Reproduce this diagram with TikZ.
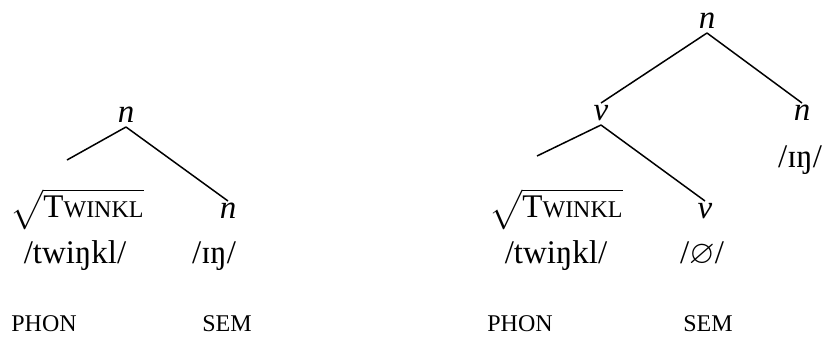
\documentclass[tikz,border=0pt]{standalone}
\usepackage{fontspec}
\setmainfont{Liberation Serif}
\usepackage{amssymb}
\usepackage{tikz}
\usetikzlibrary{calc}
\usetikzlibrary{positioning}
\tikzstyle{catnode} = [font=\fontsize{16.5}{20}\selectfont\itshape, inner sep=0pt, outer sep=2.5pt, text height=0.6em, text depth=0pt, anchor=base]
\tikzstyle{wordnode} = [inner sep=0pt, anchor=base]
\tikzstyle{branch} = [line width=0.75pt]
\newcommand{\smcaps}[1]{{\fontsize{12}{14}\selectfont #1}}
\newcommand{\rootform}{$\sqrt{\rule[-6pt]{0pt}{18pt}\mbox{T\smcaps{WINKL}}}$}

\begin{document}
\begin{tikzpicture}[x=0.5pt, y=-0.5pt, font=\fontsize{16.5}{20}\selectfont]
\useasboundingbox (0,0) rectangle (826,338);

% left tree
\node[catnode] (rootL) at (126,122) {n};
\node[wordnode] (sqrtL) at (77,217) {\rootform};
\node[catnode] (nL) at (228,218) {n};
\node[wordnode] (phonL) at (75,263) {/twiŋkl/};
\node[wordnode] (ingL) at (214,263) {/ɪŋ/};
\node[wordnode] (phonlabL) at (44,331) {\smcaps{PHON}};
\node[wordnode] (semlabL) at (227,331) {\smcaps{SEM}};
\coordinate (endL) at (67,160);
\draw[branch] (rootL.south) -- (endL);
\draw[branch] (rootL.south) -- (nL.north);

% right tree
\node[catnode] (rootR) at (707,28) {n};
\node[catnode] (vR) at (601,120) {v};
\node[catnode] (nR) at (802,120) {n};
\node[wordnode] (ingR) at (800,167) {/ɪŋ/};
\node[wordnode] (sqrtR) at (556,217) {\rootform};
\node[catnode] (vlow) at (705,218) {v};
\node[wordnode] (phonR) at (556,263) {/twiŋkl/};
\node[wordnode] (nullR) at (702,263) {/$\varnothing$/};
\node[wordnode] (phonlabR) at (520,331) {\smcaps{PHON}};
\node[wordnode] (semlabR) at (708,331) {\smcaps{SEM}};
\coordinate (endR) at (537,156);
\draw[branch] (rootR.south) -- (vR.north);
\draw[branch] (rootR.south) -- (nR.north);
\draw[branch] (vR.south) -- (endR);
\draw[branch] (vR.south) -- (vlow.north);
\end{tikzpicture}
\end{document}
